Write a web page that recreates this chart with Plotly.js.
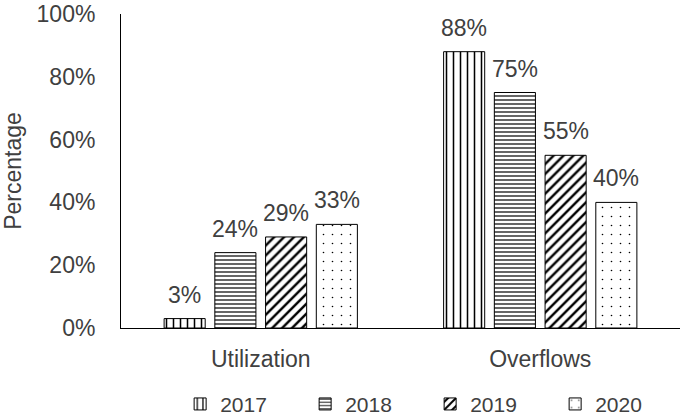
<!DOCTYPE html>
<html>
<head>
<meta charset="utf-8">
<script src="https://cdn.plot.ly/plotly-3.0.1.min.js"></script>
<style>html,body{margin:0;padding:0;background:#fff;}#chart{width:685px;height:418px;}</style>
</head>
<body>
<div id="chart"></div>
<script>
const categories = ['Utilization', 'Overflows'];
const years = ['2017', '2018', '2019', '2020'];
const values2017 = [3, 88];
const values2018 = [24, 75];
const values2019 = [29, 55];
const values2020 = [33, 40];
const yTicks = [0, 20, 40, 60, 80, 100];

const seriesValues = [values2017, values2018, values2019, values2020];
const patterns = [
  {shape: '|', size: 7, solidity: 0.22},
  {shape: '-', size: 4, solidity: 0.3},
  {shape: '/', size: 7, solidity: 0.35},
  {shape: '.', size: 9, solidity: 0.025}
];

const bargap = 0.274;
const bargroupgap = 0.19;
const textColor = '#404040';
const fontFam = 'Liberation Sans, Arial, sans-serif';

const traces = years.map((yr, i) => ({
  type: 'bar',
  name: yr,
  x: categories,
  y: seriesValues[i],
  marker: {
    color: '#ffffff',
    line: {color: '#000000', width: 1},
    pattern: Object.assign({fgcolor: '#000000', bgcolor: '#ffffff', fillmode: 'replace'}, patterns[i])
  },
  hoverinfo: 'none'
}));

const slot = (1 - bargap) / years.length;
const annotations = [];
years.forEach((yr, i) => {
  categories.forEach((c, j) => {
    annotations.push({
      x: j + (i - (years.length - 1) / 2) * slot,
      y: seriesValues[i][j],
      xref: 'x', yref: 'y',
      text: seriesValues[i][j] + '%',
      showarrow: false,
      yanchor: 'bottom',
      yshift: 9,
      font: {size: 23, color: textColor, family: fontFam}
    });
  });
});

const layout = {
  width: 685, height: 418,
  margin: {l: 121, r: 5, t: 14, b: 90, autoexpand: false},
  paper_bgcolor: '#fff', plot_bgcolor: '#fff',
  font: {family: fontFam, color: textColor, size: 23},
  barmode: 'group',
  bargap: bargap,
  bargroupgap: bargroupgap,
  showlegend: true,
  legend: {
    orientation: 'h', x: 0.553, xanchor: 'center', y: -0.243, yanchor: 'middle',
    font: {size: 21, color: textColor, family: fontFam},
    entrywidth: 80, entrywidthmode: 'pixels', itemwidth: 30
  },
  xaxis: {
    type: 'category',
    showline: true, linecolor: '#000', linewidth: 1,
    showgrid: false, zeroline: false, ticks: '',
    ticklabelstandoff: 10,
    tickfont: {size: 23, color: textColor}
  },
  yaxis: {
    range: [0, 100],
    tickvals: yTicks,
    ticktext: yTicks.map(v => v + '%'),
    showline: true, linecolor: '#000', linewidth: 1,
    showgrid: false, zeroline: false, ticks: '',
    ticklabelstandoff: 20,
    tickfont: {size: 23, color: textColor},
    title: {text: 'Percentage', font: {size: 23, color: textColor}, standoff: 8}
  },
  annotations: annotations
};

Plotly.newPlot('chart', traces, layout, {displayModeBar: false, staticPlot: true});
</script>
</body>
</html>
